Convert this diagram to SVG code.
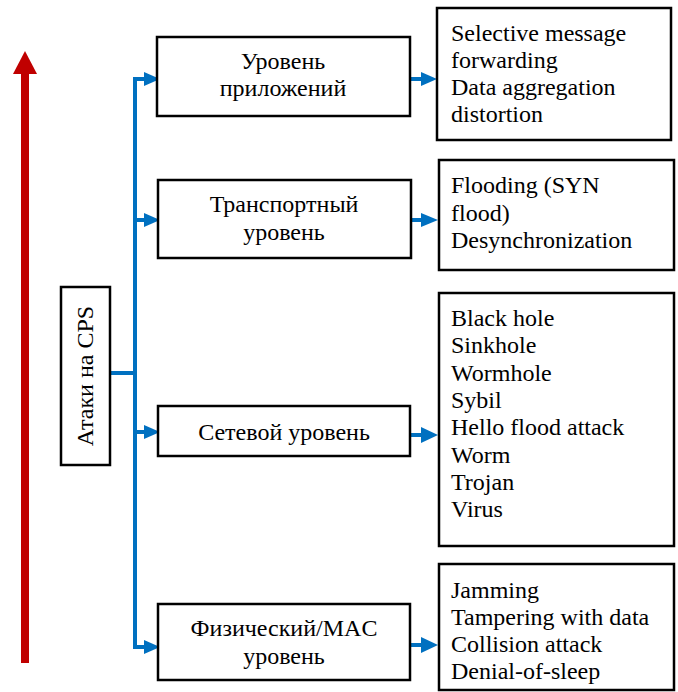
<svg xmlns="http://www.w3.org/2000/svg" width="678" height="692" viewBox="0 0 678 692">
<style>
.box{fill:#fff;stroke:#000;stroke-width:2.5}
.t{font-family:"Liberation Serif","Times New Roman",serif;font-size:24px;fill:#000}
.c{text-anchor:middle}
.ln{fill:none;stroke:#0070C0;stroke-width:4}
.ah{fill:#0070C0}
</style>
<rect width="678" height="692" fill="#fff"/>
<g id="red-arrow">
<rect x="21" y="73" width="8" height="590" fill="#C00000"/>
<polygon points="25,51 37,74 13,74" fill="#C00000"/>
</g>
<g id="connectors">
<polyline class="ln" points="145,79 135,79 135,647 145,647"/>
<line class="ln" x1="110" y1="373" x2="135" y2="373"/>
<line class="ln" x1="135" y1="220" x2="145" y2="220"/>
<line class="ln" x1="135" y1="432" x2="145" y2="432"/>
<polygon class="ah" points="144,72 160,79 144,86"/>
<polygon class="ah" points="144,213 160,220 144,227"/>
<polygon class="ah" points="144,425 160,432 144,439"/>
<polygon class="ah" points="144,640 160,647 144,654"/>
<line class="ln" x1="410" y1="79" x2="424" y2="79"/>
<line class="ln" x1="410" y1="220" x2="424" y2="220"/>
<line class="ln" x1="410" y1="435" x2="424" y2="435"/>
<line class="ln" x1="410" y1="645" x2="424" y2="645"/>
<polygon class="ah" points="421,72 437,79 421,86"/>
<polygon class="ah" points="421,213 438,220 421,227"/>
<polygon class="ah" points="421,427 438,435 421,443"/>
<polygon class="ah" points="421,637 438,645 421,653"/>
</g>
<g id="root">
<rect class="box" x="61" y="287" width="49" height="178"/>
<text class="t c" transform="translate(93,376) rotate(-90)">Атаки на CPS</text>
</g>
<g id="app">
<rect class="box" x="157" y="37" width="253" height="79"/>
<text class="t c" x="283" y="69">Уровень</text>
<text class="t c" x="283" y="96">приложений</text>
</g>
<g id="transport">
<rect class="box" x="158" y="180" width="253" height="78"/>
<text class="t c" x="284" y="212">Транспортный</text>
<text class="t c" x="284" y="240">уровень</text>
</g>
<g id="network">
<rect class="box" x="158" y="406" width="252" height="50"/>
<text class="t c" x="284" y="440">Сетевой уровень</text>
</g>
<g id="physical">
<rect class="box" x="158" y="604" width="252" height="76"/>
<text class="t c" x="284" y="636">Физический/MAC</text>
<text class="t c" x="284" y="664">уровень</text>
</g>
<g id="app-attacks">
<rect class="box" x="437" y="8" width="234" height="132"/>
<text class="t" x="451" y="41">Selective message</text>
<text class="t" x="451" y="68">forwarding</text>
<text class="t" x="451" y="95">Data aggregation</text>
<text class="t" x="451" y="122">distortion</text>
</g>
<g id="transport-attacks">
<rect class="box" x="439" y="160" width="235" height="110"/>
<text class="t" x="451" y="193">Flooding (SYN</text>
<text class="t" x="451" y="221">flood)</text>
<text class="t" x="451" y="248">Desynchronization</text>
</g>
<g id="network-attacks">
<rect class="box" x="439" y="293" width="235" height="253"/>
<text class="t" x="451" y="326">Black hole</text>
<text class="t" x="451" y="353">Sinkhole</text>
<text class="t" x="451" y="381">Wormhole</text>
<text class="t" x="451" y="408">Sybil</text>
<text class="t" x="451" y="435">Hello flood attack</text>
<text class="t" x="451" y="463">Worm</text>
<text class="t" x="451" y="490">Trojan</text>
<text class="t" x="451" y="517">Virus</text>
</g>
<g id="physical-attacks">
<rect class="box" x="439" y="564" width="235" height="126"/>
<text class="t" x="451" y="598">Jamming</text>
<text class="t" x="451" y="625">Tampering with data</text>
<text class="t" x="451" y="652">Collision attack</text>
<text class="t" x="451" y="679">Denial-of-sleep</text>
</g>
</svg>
